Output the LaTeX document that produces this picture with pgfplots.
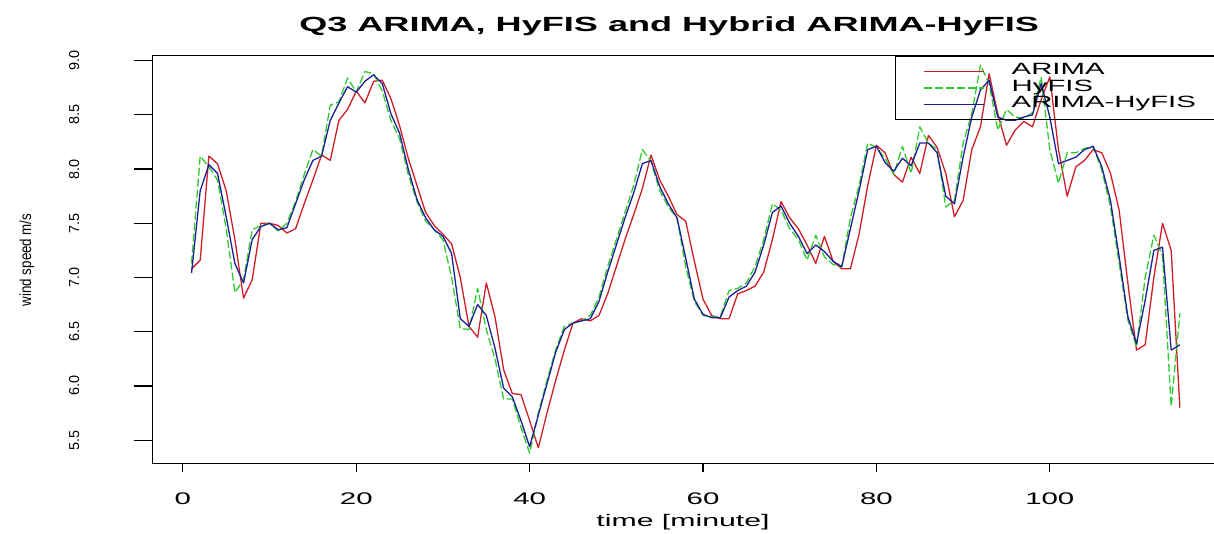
\documentclass[border=0pt]{standalone}
\usepackage{pgfplots}
\pgfplotsset{compat=1.18}
\usepackage{pgfplotstable}
\usepackage{fontspec}
\setmainfont{Liberation Sans}
\definecolor{cred}{RGB}{205,30,40}
\definecolor{cgreen}{RGB}{45,205,45}
\definecolor{cblue}{RGB}{30,30,150}
\pgfplotstableread{
x arima hyfis hybrid
1 7.08 7.13 7.04
2 7.16 8.12 7.80
3 8.12 8.02 8.04
4 8.05 7.90 7.96
5 7.80 7.45 7.56
6 7.35 6.86 7.13
7 6.81 6.98 6.95
8 6.98 7.44 7.35
9 7.50 7.48 7.47
10 7.50 7.50 7.50
11 7.48 7.43 7.44
12 7.41 7.50 7.46
13 7.45 7.70 7.68
14 7.68 7.95 7.90
15 7.90 8.18 8.08
16 8.13 8.12 8.12
17 8.08 8.59 8.45
18 8.45 8.62 8.61
19 8.55 8.84 8.76
20 8.72 8.71 8.71
21 8.61 8.90 8.81
22 8.81 8.88 8.87
23 8.82 8.72 8.79
24 8.65 8.45 8.51
25 8.40 8.28 8.33
26 8.10 7.95 8.00
27 7.85 7.70 7.72
28 7.60 7.52 7.55
29 7.48 7.44 7.44
30 7.40 7.35 7.38
31 7.31 7.00 7.22
32 7.00 6.53 6.62
33 6.55 6.52 6.55
34 6.45 6.90 6.75
35 6.95 6.52 6.65
36 6.64 6.25 6.35
37 6.15 5.88 5.98
38 5.93 5.88 5.90
39 5.92 5.62 5.68
40 5.68 5.38 5.44
41 5.43 5.75 5.73
42 5.75 6.05 6.02
43 6.05 6.33 6.31
44 6.33 6.55 6.52
45 6.58 6.58 6.58
46 6.62 6.60 6.60
47 6.60 6.65 6.62
48 6.65 6.82 6.78
49 6.85 7.10 7.05
50 7.10 7.35 7.30
51 7.35 7.60 7.55
52 7.58 7.85 7.78
53 7.82 8.18 8.05
54 8.13 8.07 8.08
55 7.90 7.80 7.84
56 7.75 7.65 7.68
57 7.58 7.55 7.55
58 7.52 7.10 7.18
59 7.15 6.78 6.80
60 6.80 6.65 6.66
61 6.65 6.64 6.63
62 6.62 6.64 6.63
63 6.62 6.88 6.82
64 6.85 6.90 6.88
65 6.88 6.95 6.92
66 6.92 7.10 7.05
67 7.05 7.35 7.30
68 7.35 7.68 7.60
69 7.70 7.62 7.66
70 7.55 7.45 7.50
71 7.45 7.35 7.38
72 7.30 7.16 7.22
73 7.13 7.39 7.30
74 7.38 7.19 7.24
75 7.15 7.12 7.15
76 7.08 7.10 7.10
77 7.08 7.55 7.45
78 7.40 7.85 7.80
79 7.85 8.24 8.18
80 8.22 8.20 8.21
81 8.15 8.10 8.06
82 7.95 7.95 7.98
83 7.88 8.21 8.10
84 8.11 7.96 8.03
85 7.96 8.39 8.24
86 8.31 8.24 8.24
87 8.20 8.18 8.15
88 7.96 7.65 7.75
89 7.56 7.71 7.68
90 7.71 8.24 8.11
91 8.18 8.51 8.48
92 8.39 8.96 8.73
93 8.88 8.79 8.82
94 8.51 8.36 8.48
95 8.22 8.55 8.45
96 8.36 8.48 8.45
97 8.44 8.47 8.48
98 8.39 8.52 8.50
99 8.64 8.85 8.79
100 8.85 8.18 8.48
101 8.18 7.87 8.05
102 7.75 8.15 8.08
103 8.02 8.15 8.11
104 8.08 8.19 8.18
105 8.18 8.21 8.21
106 8.15 7.99 8.02
107 7.96 7.65 7.71
108 7.62 7.13 7.19
109 6.95 6.61 6.64
110 6.33 6.36 6.39
111 6.38 7.00 6.79
112 7.00 7.39 7.25
113 7.50 7.20 7.28
114 7.25 5.81 6.33
115 5.80 6.67 6.38
}\data
\begin{document}
\begin{tikzpicture}
\useasboundingbox (0,0) rectangle (1214pt,534pt);
\begin{axis}[
  at={(152pt,70pt)}, anchor=south west,
  scale only axis, width=1067.4pt, height=408.3pt,
  xmin=-3.56, xmax=119.56, ymin=5.28, ymax=9.046,
  axis line style={black, line width=1pt},
  tick align=outside, tick pos=left,
  major tick length=8pt,
  every tick/.style={black, line width=1.2pt},
  xtick={0,20,40,60,80,100}, xticklabels={0,20,40,60,80,100},
  ytick=\empty,
  extra y ticks={5.5,6.0,6.5,7.0,7.5,8.0,8.5,9.0},
  extra y tick labels={5.5,6.0,6.5,7.0,7.5,8.0,8.5,9.0},
  extra y tick style={major tick length=18pt},
  xticklabel style={font=\fontsize{16.8}{18}\selectfont, yshift=-32.7pt, xscale=1.75, anchor=base},
  yticklabel style={font=\fontsize{14.4}{16}\selectfont, xshift=-55pt, rotate=90, anchor=base},
  xlabel={time [minute]},
  xlabel style={at={(axis description cs:0.4975,-0.154)}, anchor=base, font=\fontsize{16.8}{18}\selectfont, xscale=1.8},
  ylabel={wind speed m/s},
  ylabel style={at={(axis description cs:-0.117,0.5)}, anchor=center, font=\fontsize{13.3}{15}\selectfont, yscale=1.2},
  title={Q3 ARIMA, HyFIS and Hybrid ARIMA-HyFIS},
  every axis title shift=0pt,
  title style={at={(axis description cs:0.4845,1.0588)}, anchor=base, font=\bfseries\fontsize{20.5}{24}\selectfont, xscale=1.76},
  no markers,
  legend style={at={(axis description cs:0.696,1)}, anchor=north west, draw=black, line width=1pt, fill=none,
    font=\fontsize{16.3}{18}\selectfont, inner xsep=28pt, inner ysep=7pt, row sep=0pt, column sep=27pt,
    nodes={inner sep=0pt, text height=11.7pt, text depth=4.8pt}},
  legend cell align=left,
  legend image code/.code={\draw[#1] (0pt,0pt) -- (60pt,0pt);},
]
\addplot[cred, line width=1.3pt, line join=round] table[x=x, y=arima] {\data};
\addplot[cgreen, line width=1.3pt, line join=round, dash pattern=on 8pt off 3pt] table[x=x, y=hyfis] {\data};
\addplot[cblue, line width=1.3pt, line join=round] table[x=x, y=hybrid] {\data};
\legend{\scalebox{1.8}[1]{ARIMA}, \scalebox{1.8}[1]{HyFIS}, \scalebox{1.8}[1]{ARIMA-HyFIS}\hspace*{40pt}}
\end{axis}
\end{tikzpicture}
\end{document}
